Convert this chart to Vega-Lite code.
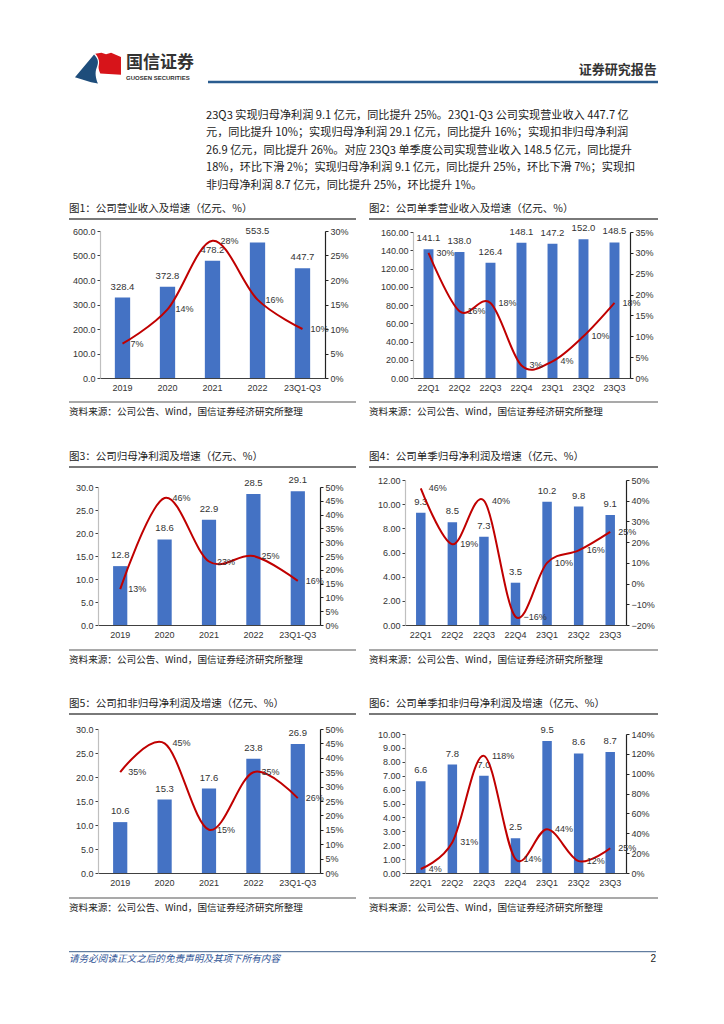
{
"$schema": "https://vega.github.io/schema/vega-lite/v6.json",
"background": "white",
"padding": {"left": 68, "top": 0, "right": 0, "bottom": 0},
"config": {
  "view": {"stroke": null},
  "font": "Noto Sans CJK SC",
  "axis": {"grid": false, "labelFont": "Liberation Sans", "labelFontSize": 9, "labelColor": "#333", "title": null},
  "axisLeft": {"domainColor": "#BFBFBF", "domainWidth": 1.2, "tickColor": "#404040", "tickSize": 3, "labelPadding": 2},
  "axisRight": {"domainColor": "#222", "domainWidth": 1.2, "tickColor": "#222", "tickSize": 3, "labelPadding": 2},
  "axisBottom": {"domainColor": "#404040", "domainWidth": 1, "ticks": false, "tickSize": 0, "labelPadding": 5.5, "labelAngle": 0}
},
"spacing": 0,
"vconcat": [
  {
    "width": 589, "height": 97.5,
    "data": {"values": [{}]},
    "layer": [
      {"mark": {"type": "point", "shape": "M-1,0.4L-0.17,-0.58C0.05,-0.35,0.02,-0.2,-0.06,0C-0.14,0.2,-0.1,0.45,0,0.68L-0.3,0.62Z", "size": 2116, "filled": true, "color": "#1E4D7B", "opacity": 1, "strokeWidth": 0},
       "encoding": {"x": {"datum": 4.92, "type": "quantitative", "scale": {"domain": [0, 100]}, "axis": null}, "y": {"datum": 69.7, "type": "quantitative", "scale": {"domain": [0, 100], "reverse": true}, "axis": null}}},
      {"mark": {"type": "point", "shape": "M-0.12,-0.62L0.15,-0.66L0.35,-0.6L0.57,-0.66L1,-0.48L1,0.3L0.1,0.24C0.04,0.1,0,0,0.04,-0.15C0.08,-0.3,0,-0.5,-0.12,-0.62Z", "size": 2116, "filled": true, "color": "#D7141A", "opacity": 1, "strokeWidth": 0},
       "encoding": {"x": {"datum": 4.92, "type": "quantitative"}, "y": {"datum": 69.7, "type": "quantitative"}}},
      {"mark": {"type": "text", "text": "国信证券", "align": "left", "baseline": "middle", "fontSize": 17, "fontWeight": "bold", "color": "#333"},
       "encoding": {"x": {"datum": 9.68, "type": "quantitative"}, "y": {"datum": 65.1, "type": "quantitative"}}},
      {"mark": {"type": "text", "text": "GUOSEN SECURITIES", "align": "left", "baseline": "middle", "fontSize": 6, "font": "Liberation Sans", "fontWeight": "bold", "color": "#333"},
       "encoding": {"x": {"datum": 9.68, "type": "quantitative"}, "y": {"datum": 79.5, "type": "quantitative"}}},
      {"mark": {"type": "rule", "color": "#2A5C8F", "strokeWidth": 2.5},
       "encoding": {"x": {"datum": 23.6, "type": "quantitative"}, "x2": {"datum": 100}, "y": {"datum": 84.1, "type": "quantitative"}}},
      {"mark": {"type": "text", "text": "证券研究报告", "align": "right", "baseline": "middle", "fontSize": 13, "fontWeight": "bold", "color": "#333"},
       "encoding": {"x": {"datum": 99.8, "type": "quantitative"}, "y": {"datum": 71.8, "type": "quantitative"}}}
    ]
  },
  {
    "width": 587, "height": 105.25,
    "data": {"values": [
      {"line": 1, "text": "23Q3 实现归母净利润 9.1 亿元，同比提升 25%。23Q1-Q3 公司实现营业收入 447.7 亿"},
      {"line": 2, "text": "元，同比提升 10%；实现归母净利润 29.1 亿元，同比提升 16%；实现扣非归母净利润"},
      {"line": 3, "text": "26.9 亿元，同比提升 26%。对应 23Q3 单季度公司实现营业收入 148.5 亿元，同比提升"},
      {"line": 4, "text": "18%，环比下滑 2%；实现归母净利润 9.1 亿元，同比提升 25%，环比下滑 7%；实现扣"},
      {"line": 5, "text": "非归母净利润 8.7 亿元，同比提升 25%，环比提升 1%。"}
    ]},
    "mark": {"type": "text", "align": "left", "baseline": "middle", "fontSize": 11.15, "color": "#1a1a1a"},
    "encoding": {
      "x": {"datum": 23.34, "type": "quantitative", "scale": {"domain": [0, 100]}, "axis": null},
      "y": {"field": "line", "type": "ordinal", "scale": {"type": "point", "padding": 1.007}, "axis": null},
      "text": {"field": "text"}
    }
  },
  {
    "spacing": 37.7,
    "vconcat": [
      {
        "spacing": 35,
        "vconcat": [
          {"spacing": 11, "hconcat": [
            {"width": 287, "height": 183,
             "data": {"values": [
               {"p": "2019", "v": 328.4, "g": 0.07},
               {"p": "2020", "v": 372.8, "g": 0.14},
               {"p": "2021", "v": 478.2, "g": 0.28},
               {"p": "2022", "v": 553.5, "g": 0.16},
               {"p": "23Q1-Q3", "v": 447.7, "g": 0.10}
             ]},
             "layer": [
               {"encoding": {"x": {"field": "p", "type": "nominal", "sort": null, "scale": {"range": [31, 256], "paddingInner": 0.66, "paddingOuter": 0.33}, "axis": {"offset": -24}},
                             "y": {"field": "v", "type": "quantitative", "scale": {"domain": [0, 600], "nice": false, "range": [159, 12]}, "axis": {"values": [0, 100, 200, 300, 400, 500, 600], "format": ".1f", "offset": -31}}},
                "layer": [
                  {"mark": {"type": "bar", "color": "#4472C4"}},
                  {"mark": {"type": "text", "baseline": "middle", "dy": -11, "fontSize": 9.5, "font": "Liberation Sans", "color": "#333"}, "encoding": {"text": {"field": "v", "format": ".1f"}}}
                ]},
               {"encoding": {"x": {"field": "p", "type": "nominal", "sort": null, "scale": {"range": [31, 256], "paddingInner": 0.66, "paddingOuter": 0.33}, "axis": {"offset": -24}},
                             "y": {"field": "g", "type": "quantitative", "scale": {"domain": [0, 0.3], "nice": false, "range": [159, 12]}, "axis": {"orient": "right", "values": [0, 0.05, 0.1, 0.15, 0.2, 0.25, 0.3], "format": ".0%", "offset": -31}}},
                "layer": [
                  {"mark": {"type": "line", "interpolate": "cardinal", "color": "#C00000", "strokeWidth": 2}},
                  {"mark": {"type": "text", "align": "left", "baseline": "middle", "dx": 8, "fontSize": 9, "font": "Liberation Sans", "color": "#333"}, "encoding": {"text": {"field": "g", "format": ".0%"}}}
                ]},
               {"data": {"values": [{"t": "图1：公司营业收入及增速（亿元、%）"}]}, "mark": {"type": "text", "align": "left", "baseline": "middle", "dy": -10, "fontSize": 10.5, "color": "#222"}, "encoding": {"x": {"value": 0}, "y": {"value": 0}, "text": {"field": "t"}}},
               {"data": {"values": [{"t": "资料来源：公司公告、Wind，国信证券经济研究所整理"}]}, "mark": {"type": "text", "align": "left", "baseline": "middle", "dy": 10, "fontSize": 9.6, "color": "#222"}, "encoding": {"x": {"value": 0}, "y": {"value": "height"}, "text": {"field": "t"}}},
               {"data": {"values": [{"k": 1}]}, "mark": {"type": "rule", "color": "#4d4d4d", "strokeWidth": 1.5}, "encoding": {"x": {"value": 0}, "x2": {"value": "width"}, "y": {"value": 0}}},
               {"data": {"values": [{"k": 2}]}, "mark": {"type": "rule", "color": "#8c8c8c", "strokeWidth": 1.5}, "encoding": {"x": {"value": 0}, "x2": {"value": "width"}, "y": {"value": "height"}}}
             ],
             "resolve": {"scale": {"y": "independent"}}},
            {"width": 289, "height": 183,
             "data": {"values": [
               {"p": "22Q1", "v": 141.1, "g": 0.30},
               {"p": "22Q2", "v": 138.0, "g": 0.16},
               {"p": "22Q3", "v": 126.4, "g": 0.18},
               {"p": "22Q4", "v": 148.1, "g": 0.03},
               {"p": "23Q1", "v": 147.2, "g": 0.04},
               {"p": "23Q2", "v": 152.0, "g": 0.10},
               {"p": "23Q3", "v": 148.5, "g": 0.18}
             ]},
             "layer": [
               {"encoding": {"x": {"field": "p", "type": "nominal", "sort": null, "scale": {"range": [44, 261], "paddingInner": 0.68, "paddingOuter": 0.34}, "axis": {"offset": -24}},
                             "y": {"field": "v", "type": "quantitative", "scale": {"domain": [0, 160], "nice": false, "range": [159, 13]}, "axis": {"values": [0, 20, 40, 60, 80, 100, 120, 140, 160], "format": ".2f", "offset": -44}}},
                "layer": [
                  {"mark": {"type": "bar", "color": "#4472C4"}},
                  {"mark": {"type": "text", "baseline": "middle", "dy": -11, "fontSize": 9.5, "font": "Liberation Sans", "color": "#333"}, "encoding": {"text": {"field": "v", "format": ".1f"}}}
                ]},
               {"encoding": {"x": {"field": "p", "type": "nominal", "sort": null, "scale": {"range": [44, 261], "paddingInner": 0.68, "paddingOuter": 0.34}, "axis": {"offset": -24}},
                             "y": {"field": "g", "type": "quantitative", "scale": {"domain": [0, 0.35], "nice": false, "range": [159, 13]}, "axis": {"orient": "right", "values": [0, 0.05, 0.1, 0.15, 0.2, 0.25, 0.3, 0.35], "format": ".0%", "offset": -28}}},
                "layer": [
                  {"mark": {"type": "line", "interpolate": "cardinal", "color": "#C00000", "strokeWidth": 2}},
                  {"mark": {"type": "text", "align": "left", "baseline": "middle", "dx": 8, "fontSize": 9, "font": "Liberation Sans", "color": "#333"}, "encoding": {"text": {"field": "g", "format": ".0%"}}}
                ]},
               {"data": {"values": [{"t": "图2：公司单季营业收入及增速（亿元、%）"}]}, "mark": {"type": "text", "align": "left", "baseline": "middle", "dy": -10, "fontSize": 10.5, "color": "#222"}, "encoding": {"x": {"value": 0}, "y": {"value": 0}, "text": {"field": "t"}}},
               {"data": {"values": [{"t": "资料来源：公司公告、Wind，国信证券经济研究所整理"}]}, "mark": {"type": "text", "align": "left", "baseline": "middle", "dy": 10, "fontSize": 9.6, "color": "#222"}, "encoding": {"x": {"value": 0}, "y": {"value": "height"}, "text": {"field": "t"}}},
               {"data": {"values": [{"k": 1}]}, "mark": {"type": "rule", "color": "#4d4d4d", "strokeWidth": 1.5}, "encoding": {"x": {"value": 0}, "x2": {"value": "width"}, "y": {"value": 0}}},
               {"data": {"values": [{"k": 2}]}, "mark": {"type": "rule", "color": "#8c8c8c", "strokeWidth": 1.5}, "encoding": {"x": {"value": 0}, "x2": {"value": "width"}, "y": {"value": "height"}}}
             ],
             "resolve": {"scale": {"y": "independent"}}}
          ]},
          {
            "spacing": 34,
            "vconcat": [
              {"spacing": 11, "hconcat": [
                {"width": 287, "height": 183,
                 "data": {"values": [
                   {"p": "2019", "v": 12.8, "g": 0.13},
                   {"p": "2020", "v": 18.6, "g": 0.46},
                   {"p": "2021", "v": 22.9, "g": 0.23},
                   {"p": "2022", "v": 28.5, "g": 0.25},
                   {"p": "23Q1-Q3", "v": 29.1, "g": 0.16}
                 ]},
                 "layer": [
                   {"encoding": {"x": {"field": "p", "type": "nominal", "sort": null, "scale": {"range": [29, 251], "paddingInner": 0.68, "paddingOuter": 0.34}, "axis": {"offset": -25}},
                                 "y": {"field": "v", "type": "quantitative", "scale": {"domain": [0, 30], "nice": false, "range": [158, 20]}, "axis": {"values": [0, 5, 10, 15, 20, 25, 30], "format": ".1f", "offset": -29}}},
                    "layer": [
                      {"mark": {"type": "bar", "color": "#4472C4"}},
                      {"mark": {"type": "text", "baseline": "middle", "dy": -11, "fontSize": 9.5, "font": "Liberation Sans", "color": "#333"}, "encoding": {"text": {"field": "v", "format": ".1f"}}}
                    ]},
                   {"encoding": {"x": {"field": "p", "type": "nominal", "sort": null, "scale": {"range": [29, 251], "paddingInner": 0.68, "paddingOuter": 0.34}, "axis": {"offset": -25}},
                                 "y": {"field": "g", "type": "quantitative", "scale": {"domain": [0, 0.5], "nice": false, "range": [158, 20]}, "axis": {"orient": "right", "values": [0, 0.05, 0.1, 0.15, 0.2, 0.25, 0.3, 0.35, 0.4, 0.45, 0.5], "format": ".0%", "offset": -36}}},
                    "layer": [
                      {"mark": {"type": "line", "interpolate": "cardinal", "color": "#C00000", "strokeWidth": 2}},
                      {"mark": {"type": "text", "align": "left", "baseline": "middle", "dx": 8, "fontSize": 9, "font": "Liberation Sans", "color": "#333"}, "encoding": {"text": {"field": "g", "format": ".0%"}}}
                    ]},
                   {"data": {"values": [{"t": "图3：公司归母净利润及增速（亿元、%）"}]}, "mark": {"type": "text", "align": "left", "baseline": "middle", "dy": -10, "fontSize": 10.5, "color": "#222"}, "encoding": {"x": {"value": 0}, "y": {"value": 0}, "text": {"field": "t"}}},
                   {"data": {"values": [{"t": "资料来源：公司公告、Wind，国信证券经济研究所整理"}]}, "mark": {"type": "text", "align": "left", "baseline": "middle", "dy": 10, "fontSize": 9.6, "color": "#222"}, "encoding": {"x": {"value": 0}, "y": {"value": "height"}, "text": {"field": "t"}}},
                   {"data": {"values": [{"k": 1}]}, "mark": {"type": "rule", "color": "#4d4d4d", "strokeWidth": 1.5}, "encoding": {"x": {"value": 0}, "x2": {"value": "width"}, "y": {"value": 0}}},
                   {"data": {"values": [{"k": 2}]}, "mark": {"type": "rule", "color": "#8c8c8c", "strokeWidth": 1.5}, "encoding": {"x": {"value": 0}, "x2": {"value": "width"}, "y": {"value": "height"}}}
                 ],
                 "resolve": {"scale": {"y": "independent"}}},
                {"width": 289, "height": 183,
                 "data": {"values": [
                   {"p": "22Q1", "v": 9.3, "g": 0.46},
                   {"p": "22Q2", "v": 8.5, "g": 0.19},
                   {"p": "22Q3", "v": 7.3, "g": 0.40},
                   {"p": "22Q4", "v": 3.5, "g": -0.16},
                   {"p": "23Q1", "v": 10.2, "g": 0.10},
                   {"p": "23Q2", "v": 9.8, "g": 0.16},
                   {"p": "23Q3", "v": 9.1, "g": 0.25}
                 ]},
                 "layer": [
                   {"encoding": {"x": {"field": "p", "type": "nominal", "sort": null, "scale": {"range": [36, 257], "paddingInner": 0.7, "paddingOuter": 0.35}, "axis": {"offset": -25}},
                                 "y": {"field": "v", "type": "quantitative", "scale": {"domain": [0, 12], "nice": false, "range": [158, 13]}, "axis": {"values": [0, 2, 4, 6, 8, 10, 12], "format": ".2f", "offset": -36}}},
                    "layer": [
                      {"mark": {"type": "bar", "color": "#4472C4"}},
                      {"mark": {"type": "text", "baseline": "middle", "dy": -11, "fontSize": 9.5, "font": "Liberation Sans", "color": "#333"}, "encoding": {"text": {"field": "v", "format": ".1f"}}}
                    ]},
                   {"encoding": {"x": {"field": "p", "type": "nominal", "sort": null, "scale": {"range": [36, 257], "paddingInner": 0.7, "paddingOuter": 0.35}, "axis": {"offset": -25}},
                                 "y": {"field": "g", "type": "quantitative", "scale": {"domain": [-0.2, 0.5], "nice": false, "zero": false, "range": [158, 13]}, "axis": {"orient": "right", "values": [-0.2, -0.1, 0, 0.1, 0.2, 0.3, 0.4, 0.5], "format": ".0%", "offset": -32}}},
                    "layer": [
                      {"mark": {"type": "line", "interpolate": "cardinal", "color": "#C00000", "strokeWidth": 2}},
                      {"mark": {"type": "text", "align": "left", "baseline": "middle", "dx": 8, "fontSize": 9, "font": "Liberation Sans", "color": "#333"}, "encoding": {"text": {"field": "g", "format": ".0%"}}}
                    ]},
                   {"data": {"values": [{"t": "图4：公司单季归母净利润及增速（亿元、%）"}]}, "mark": {"type": "text", "align": "left", "baseline": "middle", "dy": -10, "fontSize": 10.5, "color": "#222"}, "encoding": {"x": {"value": 0}, "y": {"value": 0}, "text": {"field": "t"}}},
                   {"data": {"values": [{"t": "资料来源：公司公告、Wind，国信证券经济研究所整理"}]}, "mark": {"type": "text", "align": "left", "baseline": "middle", "dy": 10, "fontSize": 9.6, "color": "#222"}, "encoding": {"x": {"value": 0}, "y": {"value": "height"}, "text": {"field": "t"}}},
                   {"data": {"values": [{"k": 1}]}, "mark": {"type": "rule", "color": "#4d4d4d", "strokeWidth": 1.5}, "encoding": {"x": {"value": 0}, "x2": {"value": "width"}, "y": {"value": 0}}},
                   {"data": {"values": [{"k": 2}]}, "mark": {"type": "rule", "color": "#8c8c8c", "strokeWidth": 1.5}, "encoding": {"x": {"value": 0}, "x2": {"value": "width"}, "y": {"value": "height"}}}
                 ],
                 "resolve": {"scale": {"y": "independent"}}}
              ]},
              {"spacing": 11, "hconcat": [
                {"width": 287, "height": 184,
                 "data": {"values": [
                   {"p": "2019", "v": 10.6, "g": 0.35},
                   {"p": "2020", "v": 15.3, "g": 0.45},
                   {"p": "2021", "v": 17.6, "g": 0.15},
                   {"p": "2022", "v": 23.8, "g": 0.35},
                   {"p": "23Q1-Q3", "v": 26.9, "g": 0.26}
                 ]},
                 "layer": [
                   {"encoding": {"x": {"field": "p", "type": "nominal", "sort": null, "scale": {"range": [29, 251], "paddingInner": 0.68, "paddingOuter": 0.34}, "axis": {"offset": -25}},
                                 "y": {"field": "v", "type": "quantitative", "scale": {"domain": [0, 30], "nice": false, "range": [159, 15]}, "axis": {"values": [0, 5, 10, 15, 20, 25, 30], "format": ".1f", "offset": -29}}},
                    "layer": [
                      {"mark": {"type": "bar", "color": "#4472C4"}},
                      {"mark": {"type": "text", "baseline": "middle", "dy": -11, "fontSize": 9.5, "font": "Liberation Sans", "color": "#333"}, "encoding": {"text": {"field": "v", "format": ".1f"}}}
                    ]},
                   {"encoding": {"x": {"field": "p", "type": "nominal", "sort": null, "scale": {"range": [29, 251], "paddingInner": 0.68, "paddingOuter": 0.34}, "axis": {"offset": -25}},
                                 "y": {"field": "g", "type": "quantitative", "scale": {"domain": [0, 0.5], "nice": false, "range": [159, 15]}, "axis": {"orient": "right", "values": [0, 0.05, 0.1, 0.15, 0.2, 0.25, 0.3, 0.35, 0.4, 0.45, 0.5], "format": ".0%", "offset": -36}}},
                    "layer": [
                      {"mark": {"type": "line", "interpolate": "cardinal", "color": "#C00000", "strokeWidth": 2}},
                      {"mark": {"type": "text", "align": "left", "baseline": "middle", "dx": 8, "fontSize": 9, "font": "Liberation Sans", "color": "#333"}, "encoding": {"text": {"field": "g", "format": ".0%"}}}
                    ]},
                   {"data": {"values": [{"t": "图5：公司扣非归母净利润及增速（亿元、%）"}]}, "mark": {"type": "text", "align": "left", "baseline": "middle", "dy": -10, "fontSize": 10.5, "color": "#222"}, "encoding": {"x": {"value": 0}, "y": {"value": 0}, "text": {"field": "t"}}},
                   {"data": {"values": [{"t": "资料来源：公司公告、Wind，国信证券经济研究所整理"}]}, "mark": {"type": "text", "align": "left", "baseline": "middle", "dy": 10, "fontSize": 9.6, "color": "#222"}, "encoding": {"x": {"value": 0}, "y": {"value": "height"}, "text": {"field": "t"}}},
                   {"data": {"values": [{"k": 1}]}, "mark": {"type": "rule", "color": "#4d4d4d", "strokeWidth": 1.5}, "encoding": {"x": {"value": 0}, "x2": {"value": "width"}, "y": {"value": 0}}},
                   {"data": {"values": [{"k": 2}]}, "mark": {"type": "rule", "color": "#8c8c8c", "strokeWidth": 1.5}, "encoding": {"x": {"value": 0}, "x2": {"value": "width"}, "y": {"value": "height"}}}
                 ],
                 "resolve": {"scale": {"y": "independent"}}},
                {"width": 289, "height": 184,
                 "data": {"values": [
                   {"p": "22Q1", "v": 6.6, "g": 0.04},
                   {"p": "22Q2", "v": 7.8, "g": 0.31},
                   {"p": "22Q3", "v": 7.0, "g": 1.18},
                   {"p": "22Q4", "v": 2.5, "g": 0.14},
                   {"p": "23Q1", "v": 9.5, "g": 0.44},
                   {"p": "23Q2", "v": 8.6, "g": 0.12},
                   {"p": "23Q3", "v": 8.7, "g": 0.25}
                 ]},
                 "layer": [
                   {"encoding": {"x": {"field": "p", "type": "nominal", "sort": null, "scale": {"range": [36, 257], "paddingInner": 0.7, "paddingOuter": 0.35}, "axis": {"offset": -25}},
                                 "y": {"field": "v", "type": "quantitative", "scale": {"domain": [0, 10], "nice": false, "range": [159, 20]}, "axis": {"values": [0, 1, 2, 3, 4, 5, 6, 7, 8, 9, 10], "format": ".2f", "offset": -36}}},
                    "layer": [
                      {"mark": {"type": "bar", "color": "#4472C4"}},
                      {"mark": {"type": "text", "baseline": "middle", "dy": -11, "fontSize": 9.5, "font": "Liberation Sans", "color": "#333"}, "encoding": {"text": {"field": "v", "format": ".1f"}}}
                    ]},
                   {"encoding": {"x": {"field": "p", "type": "nominal", "sort": null, "scale": {"range": [36, 257], "paddingInner": 0.7, "paddingOuter": 0.35}, "axis": {"offset": -25}},
                                 "y": {"field": "g", "type": "quantitative", "scale": {"domain": [0, 1.4], "nice": false, "range": [159, 20]}, "axis": {"orient": "right", "values": [0, 0.2, 0.4, 0.6, 0.8, 1.0, 1.2, 1.4], "format": ".0%", "offset": -32}}},
                    "layer": [
                      {"mark": {"type": "line", "interpolate": "cardinal", "color": "#C00000", "strokeWidth": 2}},
                      {"mark": {"type": "text", "align": "left", "baseline": "middle", "dx": 8, "fontSize": 9, "font": "Liberation Sans", "color": "#333"}, "encoding": {"text": {"field": "g", "format": ".0%"}}}
                    ]},
                   {"data": {"values": [{"t": "图6：公司单季扣非归母净利润及增速（亿元、%）"}]}, "mark": {"type": "text", "align": "left", "baseline": "middle", "dy": -10, "fontSize": 10.5, "color": "#222"}, "encoding": {"x": {"value": 0}, "y": {"value": 0}, "text": {"field": "t"}}},
                   {"data": {"values": [{"t": "资料来源：公司公告、Wind，国信证券经济研究所整理"}]}, "mark": {"type": "text", "align": "left", "baseline": "middle", "dy": 10, "fontSize": 9.6, "color": "#222"}, "encoding": {"x": {"value": 0}, "y": {"value": "height"}, "text": {"field": "t"}}},
                   {"data": {"values": [{"k": 1}]}, "mark": {"type": "rule", "color": "#4d4d4d", "strokeWidth": 1.5}, "encoding": {"x": {"value": 0}, "x2": {"value": "width"}, "y": {"value": 0}}},
                   {"data": {"values": [{"k": 2}]}, "mark": {"type": "rule", "color": "#8c8c8c", "strokeWidth": 1.5}, "encoding": {"x": {"value": 0}, "x2": {"value": "width"}, "y": {"value": "height"}}}
                 ],
                 "resolve": {"scale": {"y": "independent"}}}
              ]}
            ]
          }
        ]
      },
      {
        "width": 587, "height": 18,
        "data": {"values": [{"t": "请务必阅读正文之后的免责声明及其项下所有内容", "n": "2"}]},
        "layer": [
          {"mark": {"type": "rule", "color": "#3E5F8A", "strokeWidth": 1},
           "encoding": {"x": {"datum": 0, "type": "quantitative", "scale": {"domain": [0, 1]}, "axis": null}, "x2": {"datum": 1}, "y": {"datum": 1, "type": "quantitative", "scale": {"domain": [0, 1]}, "axis": null}}},
          {"mark": {"type": "text", "align": "left", "baseline": "middle", "fontSize": 9.6, "fontStyle": "italic", "color": "#2F5496"},
           "encoding": {"x": {"datum": 0, "type": "quantitative", "scale": {"domain": [0, 1]}, "axis": null}, "y": {"datum": 0.62, "type": "quantitative", "scale": {"domain": [0, 1]}, "axis": null}, "text": {"field": "t"}}},
          {"mark": {"type": "text", "align": "right", "baseline": "middle", "fontSize": 10, "color": "#222", "font": "Liberation Sans"},
           "encoding": {"x": {"datum": 1, "type": "quantitative", "scale": {"domain": [0, 1]}, "axis": null}, "y": {"datum": 0.62, "type": "quantitative", "scale": {"domain": [0, 1]}, "axis": null}, "text": {"field": "n"}}}
        ]
      }
    ]
  }
]
}
